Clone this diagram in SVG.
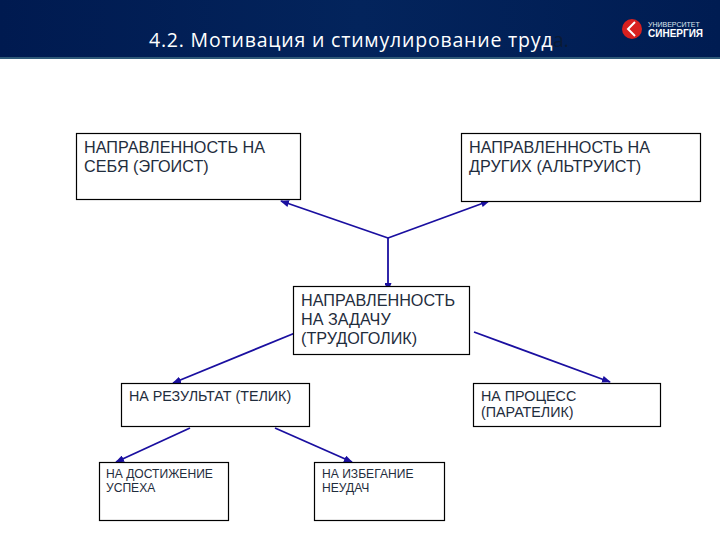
<svg xmlns="http://www.w3.org/2000/svg" width="720" height="540" viewBox="0 0 720 540">
<style>
.box{fill:#fff;stroke:#000;stroke-width:1.2}
.t{font-family:"Liberation Sans",Arial,sans-serif;fill:#1f2d3d}
.l{font-size:16.2px}
.m{font-size:14.3px}
.s{font-size:12.1px}
.c{stroke:#1a0fa0;stroke-width:1.8;fill:none;marker-end:url(#a)}
</style>
<defs>
<marker id="a" markerWidth="9" markerHeight="7" refX="8" refY="3.5" orient="auto" markerUnits="userSpaceOnUse"><path d="M0 0L9 3.500L0 7Z" fill="#1a0fa0"/></marker>
<linearGradient id="h" x1="0" x2="1" y1="0" y2="0"><stop offset="0" stop-color="#001a50"/><stop offset=".5" stop-color="#03245c"/><stop offset="1" stop-color="#001c52"/></linearGradient>
</defs>
<rect width="720" height="540" fill="#fff"/>
<g id="header">
<rect width="720" height="57" fill="url(#h)"/>
<rect y="57" width="720" height="2" fill="#2f5a78"/>
<text x="149" y="47" font-family="'Open Sans','Noto Sans',sans-serif" font-size="19.5" letter-spacing=".8" fill="#fff">4.2. Мотивация и стимулирование труд</text>
<text x="553" y="47" font-family="'Open Sans','Noto Sans',sans-serif" font-size="19.5" fill="#0a1a35">а.</text>
<circle cx="632" cy="29" r="10" fill="#d8201f"/>
<path d="M635 22L628 29L635 36" fill="none" stroke="#fff" stroke-width="2"/>
<text x="648" y="27" font-family="'Liberation Sans',sans-serif" font-size="7" fill="#dfe6f0">УНИВЕРСИТЕТ</text>
<text x="648" y="37" font-family="'Liberation Sans',sans-serif" font-size="10" font-weight="bold" fill="#fff">СИНЕРГИЯ</text>
</g>
<g id="connectors">
<path class="c" d="M388 238L281 201"/>
<path class="c" d="M388 238L489 201"/>
<path class="c" d="M388 238V291"/>
<path class="c" d="M295 333L173 383"/>
<path class="c" d="M474 332L610 382"/>
<path class="c" d="M190 428L116 462"/>
<path class="c" d="M275 428L352 462"/>
</g>
<g id="n1"><rect class="box" x="76.500" y="133.500" width="224" height="66"/><text class="t l" x="84" y="153">НАПРАВЛЕННОСТЬ НА</text><text class="t l" x="84" y="172">СЕБЯ (ЭГОИСТ)</text></g>
<g id="n2"><rect class="box" x="461.500" y="133.500" width="239" height="68"/><text class="t l" x="469" y="153">НАПРАВЛЕННОСТЬ НА</text><text class="t l" x="469" y="172">ДРУГИХ (АЛЬТРУИСТ)</text></g>
<g id="n3"><rect class="box" x="293.500" y="286.500" width="176" height="68"/><text class="t l" x="301" y="306">НАПРАВЛЕННОСТЬ</text><text class="t l" x="301" y="325">НА ЗАДАЧУ</text><text class="t l" x="301" y="344">(ТРУДОГОЛИК)</text></g>
<g id="n4"><rect class="box" x="121.500" y="383.500" width="188" height="43"/><text class="t m" x="129" y="401">НА РЕЗУЛЬТАТ (ТЕЛИК)</text></g>
<g id="n5"><rect class="box" x="473.500" y="383.500" width="187" height="43"/><text class="t m" x="481" y="401">НА ПРОЦЕСС</text><text class="t m" x="481" y="417">(ПАРАТЕЛИК)</text></g>
<g id="n6"><rect class="box" x="99.500" y="462.500" width="129" height="58"/><text class="t s" x="106" y="478">НА ДОСТИЖЕНИЕ</text><text class="t s" x="106" y="492">УСПЕХА</text></g>
<g id="n7"><rect class="box" x="314.500" y="462.500" width="130" height="58"/><text class="t s" x="322" y="478">НА ИЗБЕГАНИЕ</text><text class="t s" x="322" y="492">НЕУДАЧ</text></g>
</svg>
